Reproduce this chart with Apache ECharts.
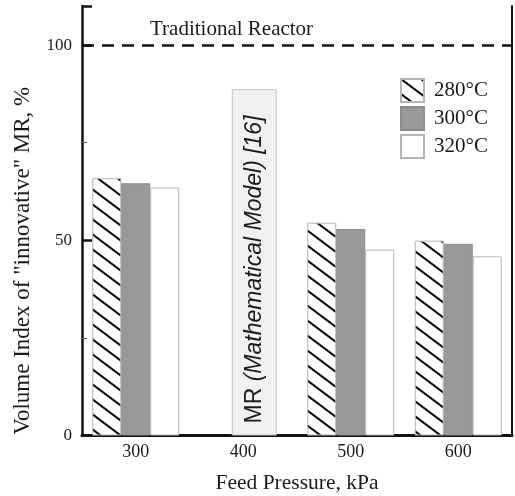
<!DOCTYPE html>
<html>
<head>
<meta charset="utf-8">
<script src="https://cdn.jsdelivr.net/npm/echarts@6/dist/echarts.min.js"></script>
<style>
html,body{margin:0;padding:0;background:#fff;}
#chart{width:515px;height:496px;}
</style>
</head>
<body>
<div id="chart"></div>
<script>
// ---- data ----
var categories = ['300', '400', '500', '600'];
var seriesNames = ['280\u00b0C', '300\u00b0C', '320\u00b0C'];
var values280 = [65.9, null, 54.5, 49.9];
var values300 = [64.6, null, 52.9, 49.1];
var values320 = [63.5, null, 47.6, 45.9];
var valuesMR = [null, 88.7, null, null];
var referenceValue = 100;
var referenceLabel = 'Traditional Reactor';
var mrLabelPlain = 'MR ';
var mrLabelItalic = '(Mathematical Model) [16]';
var xAxisName = 'Feed Pressure, kPa';
var yAxisName = 'Volume Index of "innovative" MR, %';

// ---- hatch pattern ----
function makeHatch() {
  var w = 20, h = 15;
  var c = document.createElement('canvas');
  c.width = w; c.height = h;
  var g = c.getContext('2d');
  g.fillStyle = '#ffffff';
  g.fillRect(0, 0, w, h);
  g.strokeStyle = '#000000';
  g.lineWidth = 2;
  for (var k = -1; k <= 1; k++) {
    g.beginPath();
    g.moveTo(-w, -h + k * h);
    g.lineTo(2 * w, 2 * h + k * h);
    g.stroke();
  }
  return c;
}
var hatch = makeHatch();

var serif = "'Liberation Serif', 'Times New Roman', serif";
var sans = "'Liberation Sans', Arial, sans-serif";

var chart = echarts.init(document.getElementById('chart'), null, {renderer: 'canvas'});
var option = {
  animation: false,
  backgroundColor: '#ffffff',
  title: {
    text: referenceLabel,
    left: 150,
    top: 19,
    padding: 0,
    textStyle: {fontFamily: serif, fontSize: 21, fontWeight: 'normal', color: '#1a1a1a'}
  },
  legend: {
    data: seriesNames,
    orient: 'vertical',
    left: 400,
    top: 78,
    padding: 0,
    itemWidth: 23,
    itemHeight: 23,
    itemGap: 3,
    icon: 'rect',
    textStyle: {fontFamily: serif, fontSize: 21, color: '#1a1a1a', padding: [0, 0, 0, 5]}
  },
  grid: {left: 82, right: 3, top: 6, bottom: 60.5, containLabel: false, outerBoundsMode: 'none'},
  xAxis: [
    {
      type: 'category',
      data: categories,
      position: 'bottom',
      axisLine: {lineStyle: {color: '#111', width: 3}},
      axisTick: {show: false},
      axisLabel: {fontFamily: serif, fontSize: 18, color: '#1a1a1a', margin: 8},
      name: xAxisName,
      nameLocation: 'middle',
      nameGap: 37,
      nameTextStyle: {fontFamily: serif, fontSize: 21.5, color: '#1a1a1a'}
    },
    {
      type: 'category',
      data: categories,
      position: 'top',
      axisLine: {show: true, lineStyle: {color: '#111', width: 2}},
      axisTick: {show: false},
      axisLabel: {show: false}
    }
  ],
  yAxis: [
    {
      type: 'value',
      min: 0,
      max: 110,
      interval: 50,
      axisLine: {show: true, lineStyle: {color: '#111', width: 2.5}},
      axisTick: {show: true, inside: true, length: 10, lineStyle: {color: '#111', width: 2.5}},
      minorTick: {show: true, splitNumber: 2, length: 5, lineStyle: {color: '#555', width: 1}},
      splitLine: {show: false},
      axisLabel: {
        fontFamily: serif, fontSize: 17, color: '#1a1a1a', margin: 10,
        formatter: function (v) { return v > 100 ? '' : String(v); }
      },
      name: yAxisName,
      nameLocation: 'middle',
      nameGap: 48,
      nameTextStyle: {fontFamily: serif, fontSize: 23, color: '#1a1a1a', padding: [0, 80, 0, 0]}
    },
    {
      type: 'value',
      min: 0,
      max: 110,
      position: 'right',
      axisLine: {show: true, lineStyle: {color: '#111', width: 2}},
      axisTick: {show: false},
      axisLabel: {show: false},
      splitLine: {show: false}
    }
  ],
  series: [
    {
      name: seriesNames[0],
      type: 'bar',
      xAxisIndex: 0,
      yAxisIndex: 0,
      data: values280,
      barWidth: 29,
      barGap: '0%',
      itemStyle: {color: {image: hatch, repeat: 'repeat'}, borderColor: '#b5b5b5', borderWidth: 1},
      markLine: {
        silent: true,
        symbol: 'none',
        label: {show: false},
        lineStyle: {color: '#111', width: 2.5, type: [12, 8]},
        data: [{yAxis: referenceValue}]
      }
    },
    {
      name: seriesNames[1],
      type: 'bar',
      xAxisIndex: 0,
      yAxisIndex: 0,
      data: values300,
      barWidth: 29,
      barGap: '0%',
      itemStyle: {color: '#999999', borderColor: '#8c8c8c', borderWidth: 1}
    },
    {
      name: seriesNames[2],
      type: 'bar',
      xAxisIndex: 0,
      yAxisIndex: 0,
      data: values320,
      barWidth: 29,
      barGap: '0%',
      itemStyle: {color: '#ffffff', borderColor: '#b5b5b5', borderWidth: 1}
    },
    {
      name: 'spacer',
      type: 'bar',
      xAxisIndex: 1,
      yAxisIndex: 0,
      data: [null, null, null, null],
      barWidth: 22,
      barGap: '0%',
      silent: true
    },
    {
      name: 'MR',
      type: 'bar',
      xAxisIndex: 1,
      yAxisIndex: 0,
      data: valuesMR,
      barWidth: 45,
      barGap: '0%',
      itemStyle: {color: '#f1f1f1', borderColor: '#c4c4c4', borderWidth: 1},
      label: {
        show: true,
        position: 'insideBottom',
        rotate: 90,
        align: 'left',
        verticalAlign: 'middle',
        distance: 12,
        formatter: '{a|' + mrLabelPlain + '}{b|' + mrLabelItalic + '}',
        rich: {
          a: {fontFamily: sans, fontSize: 23, color: '#1a1a1a'},
          b: {fontFamily: sans, fontSize: 23, fontStyle: 'italic', color: '#1a1a1a'}
        }
      }
    }
  ]
};
chart.setOption(option);
</script>
</body>
</html>
